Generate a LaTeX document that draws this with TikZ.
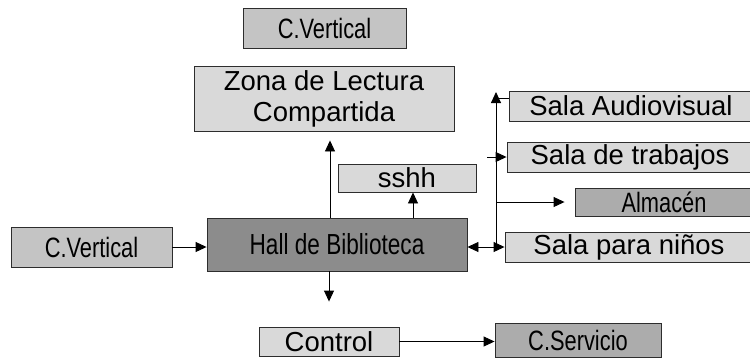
\documentclass[tikz,border=0pt]{standalone}
\usepackage{fontspec}
\setmainfont{Liberation Sans}
\newfontfamily\narrowsans[FakeStretch=0.78]{Liberation Sans}
\usepackage{tikz}
\usetikzlibrary{arrows.meta, positioning, calc}
\definecolor{bordegris}{RGB}{45, 45, 45}
\definecolor{salagris}{RGB}{217, 217, 217}
\definecolor{nucleogris}{RGB}{196, 196, 196}
\definecolor{serviciogris}{RGB}{172, 172, 172}
\definecolor{hallgris}{RGB}{140, 140, 140}
\tikzset{
  every box/.style={
    draw=bordegris,
    line width=0.9pt,
    inner sep=0pt,
    anchor=center
  },
  room/.style={
    every box,
    fill=salagris,
    font=\fontsize{27.5}{31}\selectfont
  },
  core/.style={
    every box,
    fill=nucleogris,
    font=\narrowsans\fontsize{28}{32}\selectfont
  },
  store/.style={
    every box,
    fill=serviciogris,
    font=\narrowsans\fontsize{28}{32}\selectfont
  },
  hallbox/.style={
    every box,
    fill=hallgris,
    font=\narrowsans\fontsize{29}{33}\selectfont
  },
  link/.style={
    ->,
    >={Triangle[length=11pt, width=10pt]},
    line width=0.9pt,
    draw=black
  }
}

\begin{document}
\begin{tikzpicture}[x=1pt, y=-1pt]
  \useasboundingbox (0,0) rectangle (750,360);
  % nucleos verticales y hall
  \node[core, minimum width=163pt, minimum height=40pt] (cv1) at (324.5, 28) {C.Vertical};
  \node[core, minimum width=161pt, minimum height=40pt] (cv2) at (91.5, 247) {C.Vertical};
  \node[hallbox, minimum width=260pt, minimum height=53pt] (hall) at (337, 244.5) {Hall de Biblioteca};
  \node[room, minimum width=260pt, minimum height=65pt, align=center] (zona) at (324, 98.5) {Zona de Lectura\\Compartida};
  \node[room, minimum width=138pt, minimum height=28pt] (sshh) at (407, 178) {sshh};
  \node[room, minimum width=140pt, minimum height=29pt] (ctrl) at (329, 341.5) {Control};
  \node[store, minimum width=166pt, minimum height=34pt] (serv) at (578, 340) {C.Servicio};
  % salas a la derecha
  \node[room, minimum width=244pt, minimum height=30pt] (audio) at (631, 106) {Sala Audiovisual};
  \node[room, minimum width=246pt, minimum height=30pt] (trab) at (630, 157) {Sala de trabajos};
  \node[store, minimum width=178pt, minimum height=28pt] (alm) at (664, 202) {Almacén};
  \node[room, minimum width=248pt, minimum height=30pt] (ninos) at (629, 247) {Sala para niños};

  \coordinate (up) at (330, 0);
  \coordinate (wc) at (413, 0);
  \coordinate (bus) at (496, 247);
  \coordinate (bustop) at (496, 92);
  \coordinate (busaudio) at (496, 98);
  \coordinate (trab0) at (487, 157);

  \draw[link, shorten >=9pt] (hall.north -| up) -- (zona.south -| up);
  \draw[link] (hall.north -| wc) -- (sshh.south -| wc);
  \draw[link, shorten >=25pt] (hall.south -| ctrl) -- (ctrl.north);
  \draw[link] (cv2.east) -- (cv2.east -| hall.west);
  \draw[link] (ctrl.east) -- (ctrl.east -| serv.west);
  \draw[link, <->] (hall.east |- ninos) -- (ninos.west);
  \draw[link] (bus) -- (bustop);
  \draw[line width=0.9pt] (busaudio) -- (busaudio -| audio.west);
  \draw[link] (trab0) -- (trab.west);
  \draw[link, shorten >=10pt] (bus |- alm) -- (alm.west);
\end{tikzpicture}
\end{document}
